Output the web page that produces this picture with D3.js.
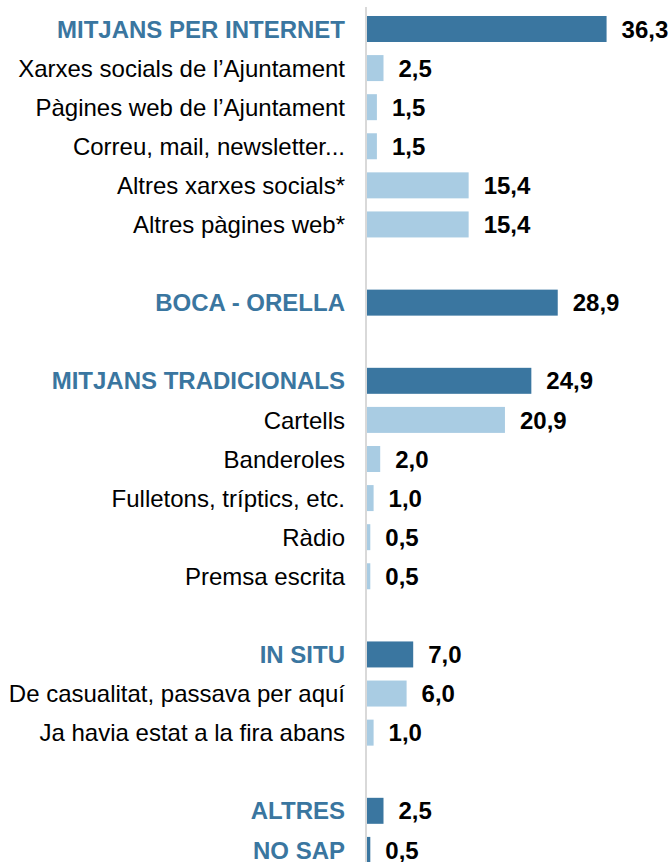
<!DOCTYPE html>
<html>
<head>
<meta charset="utf-8">
<script src="https://cdn.jsdelivr.net/npm/d3@7"></script>
<style>
  body { margin: 0; background: #fff; }
  text { font-family: Arial, "Liberation Sans", sans-serif; }
</style>
</head>
<body>
<div id="chart"></div>
<script>
// rows in order; empty strings are spacer rows between groups
const labels = [
  'MITJANS PER INTERNET', 'Xarxes socials de l’Ajuntament', 'Pàgines web de l’Ajuntament',
  'Correu, mail, newsletter...', 'Altres xarxes socials*', 'Altres pàgines web*', '',
  'BOCA - ORELLA', '',
  'MITJANS TRADICIONALS', 'Cartells', 'Banderoles', 'Fulletons, tríptics, etc.', 'Ràdio', 'Premsa escrita', '',
  'IN SITU', 'De casualitat, passava per aquí', 'Ja havia estat a la fira abans', '',
  'ALTRES', 'NO SAP'
];
const values = [
  36.3, 2.5, 1.5, 1.5, 15.4, 15.4, null,
  28.9, null,
  24.9, 20.9, 2.0, 1.0, 0.5, 0.5, null,
  7.0, 6.0, 1.0, null,
  2.5, 0.5
];
// true = group heading (dark bar, bold blue label)
const isGroup = [
  true, false, false, false, false, false, false,
  true, false,
  true, false, false, false, false, false, false,
  true, false, false, false,
  true, true
];

const width = 671, height = 862;
const dark = '#3a76a0', light = '#a9cce3';

const svg = d3.select('#chart').append('svg')
  .attr('width', width)
  .attr('height', height);

const y = d3.scaleBand()
  .domain(d3.range(labels.length))
  .range([2.9, 876])
  .padding(0.335);

const x = d3.scaleLinear()
  .domain([0, 40])
  .range([367, 631]);

const fmt = (v) => v.toFixed(1).replace('.', ',');
const rows = d3.range(labels.length).filter((i) => values[i] !== null);

svg.append('g').selectAll('rect')
  .data(rows).enter()
  .append('rect')
  .attr('x', x(0))
  .attr('y', (i) => y(i))
  .attr('width', (i) => x(values[i]) - x(0))
  .attr('height', y.bandwidth())
  .attr('fill', (i) => isGroup[i] ? dark : light);

// vertical axis line
svg.append('line')
  .attr('x1', x(0) - 1).attr('x2', x(0) - 1)
  .attr('y1', 7).attr('y2', height)
  .attr('stroke', '#d9d9d9')
  .attr('stroke-width', 2);

svg.append('g').selectAll('text')
  .data(rows).enter()
  .append('text')
  .attr('x', 345)
  .attr('y', (i) => y(i) + y.bandwidth() / 2)
  .attr('dy', '0.36em')
  .attr('text-anchor', 'end')
  .style('font-size', '24px')
  .style('font-weight', (i) => isGroup[i] ? 'bold' : 'normal')
  .attr('fill', (i) => isGroup[i] ? dark : '#000')
  .text((i) => labels[i]);

svg.append('g').selectAll('text')
  .data(rows).enter()
  .append('text')
  .attr('x', (i) => x(values[i]) + 15)
  .attr('y', (i) => y(i) + y.bandwidth() / 2)
  .attr('dy', '0.36em')
  .style('font-size', '24px')
  .style('font-weight', 'bold')
  .attr('fill', '#000')
  .text((i) => fmt(values[i]));
</script>
</body>
</html>
